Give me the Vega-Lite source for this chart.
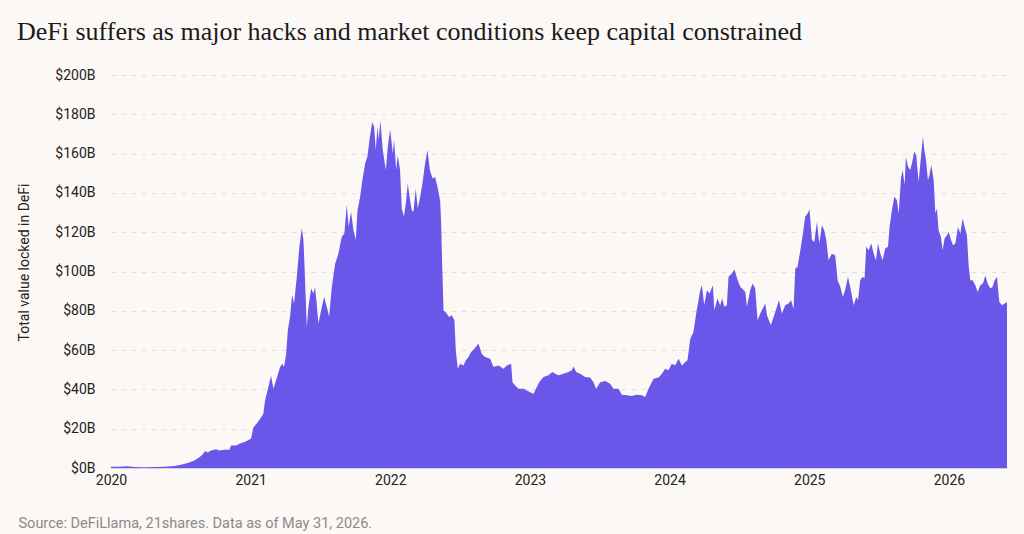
{
  "$schema": "https://vega.github.io/schema/vega-lite/v6.json",
  "width": 896,
  "height": 393,
  "autosize": {"type": "none"},
  "padding": {"left": 111, "top": 75, "right": 17, "bottom": 66},
  "background": "#FCF8F5",
  "config": {"view": {"stroke": null}},
  "title": {
    "text": "DeFi suffers as major hacks and market conditions keep capital constrained",
    "anchor": "start",
    "frame": "bounds",
    "font": "Liberation Serif",
    "fontSize": 26,
    "fontWeight": "normal",
    "color": "#1a1a1a",
    "offset": 23
  },
  "data": {
    "values": [
      {"year": 2020.000, "tvl": 0.7}, {"year": 2020.048, "tvl": 0.6}, {"year": 2020.119, "tvl": 0.9}, {"year": 2020.167, "tvl": 0.5},
      {"year": 2020.239, "tvl": 0.4}, {"year": 2020.310, "tvl": 0.5}, {"year": 2020.382, "tvl": 0.6}, {"year": 2020.454, "tvl": 1.0},
      {"year": 2020.501, "tvl": 1.6}, {"year": 2020.549, "tvl": 2.6}, {"year": 2020.597, "tvl": 3.8}, {"year": 2020.633, "tvl": 5.5},
      {"year": 2020.657, "tvl": 6.9}, {"year": 2020.673, "tvl": 8.6}, {"year": 2020.692, "tvl": 7.9}, {"year": 2020.716, "tvl": 8.9},
      {"year": 2020.752, "tvl": 9.6}, {"year": 2020.776, "tvl": 8.9}, {"year": 2020.812, "tvl": 9.3}, {"year": 2020.848, "tvl": 9.3},
      {"year": 2020.860, "tvl": 11.5}, {"year": 2020.895, "tvl": 11.5}, {"year": 2020.919, "tvl": 12.3}, {"year": 2020.955, "tvl": 13.2},
      {"year": 2020.979, "tvl": 14.0}, {"year": 2021.003, "tvl": 15.0}, {"year": 2021.020, "tvl": 20.8}, {"year": 2021.043, "tvl": 22.5},
      {"year": 2021.067, "tvl": 25.0}, {"year": 2021.091, "tvl": 27.6}, {"year": 2021.103, "tvl": 34.4}, {"year": 2021.127, "tvl": 41.2},
      {"year": 2021.146, "tvl": 47.0}, {"year": 2021.163, "tvl": 40.3}, {"year": 2021.182, "tvl": 44.6}, {"year": 2021.211, "tvl": 51.4},
      {"year": 2021.227, "tvl": 53.0}, {"year": 2021.239, "tvl": 51.4}, {"year": 2021.254, "tvl": 58.0}, {"year": 2021.266, "tvl": 70.0},
      {"year": 2021.282, "tvl": 77.0}, {"year": 2021.297, "tvl": 88.0}, {"year": 2021.311, "tvl": 83.7}, {"year": 2021.330, "tvl": 97.0},
      {"year": 2021.349, "tvl": 112.6}, {"year": 2021.366, "tvl": 122.0}, {"year": 2021.378, "tvl": 116.0}, {"year": 2021.385, "tvl": 104.0},
      {"year": 2021.402, "tvl": 71.8}, {"year": 2021.414, "tvl": 82.0}, {"year": 2021.433, "tvl": 91.3}, {"year": 2021.449, "tvl": 88.8},
      {"year": 2021.461, "tvl": 92.0}, {"year": 2021.473, "tvl": 83.7}, {"year": 2021.485, "tvl": 73.5}, {"year": 2021.504, "tvl": 80.0},
      {"year": 2021.526, "tvl": 87.0}, {"year": 2021.545, "tvl": 82.0}, {"year": 2021.562, "tvl": 77.0}, {"year": 2021.581, "tvl": 92.0},
      {"year": 2021.605, "tvl": 104.0}, {"year": 2021.628, "tvl": 109.0}, {"year": 2021.652, "tvl": 117.6}, {"year": 2021.671, "tvl": 119.4},
      {"year": 2021.688, "tvl": 133.8}, {"year": 2021.702, "tvl": 122.7}, {"year": 2021.719, "tvl": 130.4}, {"year": 2021.736, "tvl": 121.0},
      {"year": 2021.753, "tvl": 116.0}, {"year": 2021.765, "tvl": 131.0}, {"year": 2021.784, "tvl": 138.0}, {"year": 2021.800, "tvl": 146.5},
      {"year": 2021.820, "tvl": 155.0}, {"year": 2021.836, "tvl": 158.4}, {"year": 2021.851, "tvl": 167.0}, {"year": 2021.870, "tvl": 176.0},
      {"year": 2021.884, "tvl": 173.7}, {"year": 2021.896, "tvl": 161.8}, {"year": 2021.908, "tvl": 173.7}, {"year": 2021.917, "tvl": 167.0},
      {"year": 2021.929, "tvl": 176.8}, {"year": 2021.946, "tvl": 161.8}, {"year": 2021.968, "tvl": 151.6}, {"year": 2021.982, "tvl": 163.5},
      {"year": 2021.999, "tvl": 172.3}, {"year": 2022.018, "tvl": 160.0}, {"year": 2022.027, "tvl": 167.0}, {"year": 2022.042, "tvl": 151.6},
      {"year": 2022.053, "tvl": 159.0}, {"year": 2022.070, "tvl": 151.6}, {"year": 2022.082, "tvl": 132.0}, {"year": 2022.097, "tvl": 128.0},
      {"year": 2022.111, "tvl": 134.6}, {"year": 2022.125, "tvl": 144.8}, {"year": 2022.142, "tvl": 136.0}, {"year": 2022.154, "tvl": 131.0},
      {"year": 2022.166, "tvl": 130.4}, {"year": 2022.182, "tvl": 142.0}, {"year": 2022.197, "tvl": 132.0}, {"year": 2022.214, "tvl": 138.0},
      {"year": 2022.230, "tvl": 144.8}, {"year": 2022.249, "tvl": 155.0}, {"year": 2022.266, "tvl": 161.8}, {"year": 2022.283, "tvl": 151.6},
      {"year": 2022.302, "tvl": 147.4}, {"year": 2022.321, "tvl": 148.0}, {"year": 2022.338, "tvl": 143.0}, {"year": 2022.357, "tvl": 136.0},
      {"year": 2022.364, "tvl": 125.0}, {"year": 2022.371, "tvl": 105.0}, {"year": 2022.381, "tvl": 80.3}, {"year": 2022.404, "tvl": 78.6},
      {"year": 2022.421, "tvl": 76.9}, {"year": 2022.440, "tvl": 77.7}, {"year": 2022.459, "tvl": 75.2}, {"year": 2022.469, "tvl": 59.9},
      {"year": 2022.483, "tvl": 50.5}, {"year": 2022.500, "tvl": 53.0}, {"year": 2022.524, "tvl": 52.2}, {"year": 2022.541, "tvl": 54.8},
      {"year": 2022.560, "tvl": 56.5}, {"year": 2022.579, "tvl": 59.0}, {"year": 2022.603, "tvl": 60.7}, {"year": 2022.631, "tvl": 63.3},
      {"year": 2022.655, "tvl": 58.0}, {"year": 2022.679, "tvl": 56.5}, {"year": 2022.715, "tvl": 55.6}, {"year": 2022.739, "tvl": 51.4},
      {"year": 2022.775, "tvl": 52.2}, {"year": 2022.810, "tvl": 50.5}, {"year": 2022.834, "tvl": 52.2}, {"year": 2022.865, "tvl": 53.0},
      {"year": 2022.875, "tvl": 43.7}, {"year": 2022.894, "tvl": 42.0}, {"year": 2022.918, "tvl": 40.3}, {"year": 2022.954, "tvl": 40.3},
      {"year": 2022.978, "tvl": 39.5}, {"year": 2023.001, "tvl": 38.6}, {"year": 2023.025, "tvl": 37.8}, {"year": 2023.037, "tvl": 39.5},
      {"year": 2023.066, "tvl": 43.7}, {"year": 2023.097, "tvl": 46.3}, {"year": 2023.133, "tvl": 47.2}, {"year": 2023.161, "tvl": 48.8},
      {"year": 2023.181, "tvl": 48.0}, {"year": 2023.204, "tvl": 47.2}, {"year": 2023.240, "tvl": 48.0}, {"year": 2023.276, "tvl": 48.8},
      {"year": 2023.300, "tvl": 49.7}, {"year": 2023.312, "tvl": 51.7}, {"year": 2023.331, "tvl": 48.8}, {"year": 2023.360, "tvl": 48.0},
      {"year": 2023.395, "tvl": 46.3}, {"year": 2023.431, "tvl": 46.0}, {"year": 2023.455, "tvl": 43.7}, {"year": 2023.474, "tvl": 40.3},
      {"year": 2023.503, "tvl": 43.7}, {"year": 2023.539, "tvl": 44.3}, {"year": 2023.574, "tvl": 42.9}, {"year": 2023.598, "tvl": 40.3},
      {"year": 2023.634, "tvl": 40.3}, {"year": 2023.658, "tvl": 37.3}, {"year": 2023.694, "tvl": 37.0}, {"year": 2023.730, "tvl": 36.6},
      {"year": 2023.766, "tvl": 37.3}, {"year": 2023.801, "tvl": 37.0}, {"year": 2023.825, "tvl": 36.1}, {"year": 2023.849, "tvl": 40.3},
      {"year": 2023.885, "tvl": 45.4}, {"year": 2023.921, "tvl": 46.0}, {"year": 2023.945, "tvl": 48.0}, {"year": 2023.968, "tvl": 50.5},
      {"year": 2023.992, "tvl": 49.7}, {"year": 2024.016, "tvl": 53.1}, {"year": 2024.040, "tvl": 52.2}, {"year": 2024.064, "tvl": 55.6},
      {"year": 2024.088, "tvl": 52.2}, {"year": 2024.112, "tvl": 54.0}, {"year": 2024.128, "tvl": 54.8}, {"year": 2024.148, "tvl": 65.8},
      {"year": 2024.171, "tvl": 69.2}, {"year": 2024.190, "tvl": 78.6}, {"year": 2024.207, "tvl": 85.4}, {"year": 2024.219, "tvl": 90.5},
      {"year": 2024.231, "tvl": 93.0}, {"year": 2024.248, "tvl": 82.8}, {"year": 2024.267, "tvl": 90.5}, {"year": 2024.286, "tvl": 88.8},
      {"year": 2024.310, "tvl": 93.0}, {"year": 2024.320, "tvl": 80.3}, {"year": 2024.343, "tvl": 86.2}, {"year": 2024.362, "tvl": 82.8},
      {"year": 2024.377, "tvl": 86.2}, {"year": 2024.391, "tvl": 82.0}, {"year": 2024.410, "tvl": 82.8}, {"year": 2024.422, "tvl": 97.3},
      {"year": 2024.446, "tvl": 99.0}, {"year": 2024.465, "tvl": 101.0}, {"year": 2024.487, "tvl": 95.6}, {"year": 2024.506, "tvl": 92.2},
      {"year": 2024.530, "tvl": 90.5}, {"year": 2024.542, "tvl": 89.6}, {"year": 2024.554, "tvl": 82.0}, {"year": 2024.577, "tvl": 90.5},
      {"year": 2024.594, "tvl": 93.9}, {"year": 2024.613, "tvl": 91.3}, {"year": 2024.630, "tvl": 75.2}, {"year": 2024.649, "tvl": 78.6},
      {"year": 2024.685, "tvl": 83.7}, {"year": 2024.697, "tvl": 77.7}, {"year": 2024.725, "tvl": 72.6}, {"year": 2024.745, "tvl": 76.9},
      {"year": 2024.764, "tvl": 81.0}, {"year": 2024.783, "tvl": 85.4}, {"year": 2024.804, "tvl": 78.6}, {"year": 2024.828, "tvl": 82.8},
      {"year": 2024.852, "tvl": 83.7}, {"year": 2024.869, "tvl": 85.4}, {"year": 2024.888, "tvl": 81.0}, {"year": 2024.900, "tvl": 101.5},
      {"year": 2024.916, "tvl": 102.3}, {"year": 2024.936, "tvl": 110.8}, {"year": 2024.955, "tvl": 119.4}, {"year": 2024.971, "tvl": 127.8},
      {"year": 2024.988, "tvl": 129.5}, {"year": 2025.002, "tvl": 131.6}, {"year": 2025.019, "tvl": 116.0}, {"year": 2025.036, "tvl": 115.0},
      {"year": 2025.055, "tvl": 125.2}, {"year": 2025.072, "tvl": 114.2}, {"year": 2025.091, "tvl": 123.6}, {"year": 2025.107, "tvl": 121.0},
      {"year": 2025.122, "tvl": 116.0}, {"year": 2025.138, "tvl": 105.7}, {"year": 2025.162, "tvl": 109.0}, {"year": 2025.186, "tvl": 108.2},
      {"year": 2025.203, "tvl": 95.6}, {"year": 2025.222, "tvl": 92.2}, {"year": 2025.241, "tvl": 87.0}, {"year": 2025.260, "tvl": 91.3},
      {"year": 2025.277, "tvl": 97.3}, {"year": 2025.298, "tvl": 90.5}, {"year": 2025.318, "tvl": 82.8}, {"year": 2025.337, "tvl": 87.0},
      {"year": 2025.349, "tvl": 85.4}, {"year": 2025.365, "tvl": 95.6}, {"year": 2025.382, "tvl": 97.3}, {"year": 2025.396, "tvl": 96.4},
      {"year": 2025.408, "tvl": 112.6}, {"year": 2025.425, "tvl": 110.8}, {"year": 2025.444, "tvl": 114.2}, {"year": 2025.461, "tvl": 109.1},
      {"year": 2025.478, "tvl": 105.7}, {"year": 2025.492, "tvl": 114.2}, {"year": 2025.509, "tvl": 109.1}, {"year": 2025.525, "tvl": 105.7},
      {"year": 2025.544, "tvl": 111.7}, {"year": 2025.564, "tvl": 112.6}, {"year": 2025.575, "tvl": 122.7}, {"year": 2025.592, "tvl": 131.2},
      {"year": 2025.609, "tvl": 138.0}, {"year": 2025.628, "tvl": 136.3}, {"year": 2025.640, "tvl": 129.5}, {"year": 2025.657, "tvl": 147.4},
      {"year": 2025.669, "tvl": 151.6}, {"year": 2025.683, "tvl": 144.0}, {"year": 2025.692, "tvl": 158.4}, {"year": 2025.707, "tvl": 153.3},
      {"year": 2025.723, "tvl": 151.6}, {"year": 2025.735, "tvl": 155.0}, {"year": 2025.752, "tvl": 161.0}, {"year": 2025.766, "tvl": 159.3},
      {"year": 2025.783, "tvl": 145.7}, {"year": 2025.800, "tvl": 158.4}, {"year": 2025.814, "tvl": 168.6}, {"year": 2025.824, "tvl": 161.8},
      {"year": 2025.836, "tvl": 156.7}, {"year": 2025.850, "tvl": 146.5}, {"year": 2025.860, "tvl": 149.0}, {"year": 2025.874, "tvl": 154.2},
      {"year": 2025.891, "tvl": 146.5}, {"year": 2025.903, "tvl": 129.5}, {"year": 2025.914, "tvl": 132.0}, {"year": 2025.926, "tvl": 121.0},
      {"year": 2025.943, "tvl": 117.6}, {"year": 2025.955, "tvl": 110.8}, {"year": 2025.969, "tvl": 116.8}, {"year": 2025.986, "tvl": 118.5},
      {"year": 2025.998, "tvl": 120.2}, {"year": 2026.015, "tvl": 116.0}, {"year": 2026.029, "tvl": 113.4}, {"year": 2026.046, "tvl": 114.2},
      {"year": 2026.065, "tvl": 122.7}, {"year": 2026.082, "tvl": 119.4}, {"year": 2026.098, "tvl": 127.0}, {"year": 2026.113, "tvl": 122.7},
      {"year": 2026.129, "tvl": 118.5}, {"year": 2026.141, "tvl": 103.2}, {"year": 2026.153, "tvl": 95.6}, {"year": 2026.170, "tvl": 95.6},
      {"year": 2026.189, "tvl": 93.0}, {"year": 2026.206, "tvl": 89.6}, {"year": 2026.225, "tvl": 93.0}, {"year": 2026.244, "tvl": 93.9},
      {"year": 2026.261, "tvl": 98.0}, {"year": 2026.277, "tvl": 93.9}, {"year": 2026.297, "tvl": 91.3}, {"year": 2026.313, "tvl": 92.2},
      {"year": 2026.328, "tvl": 95.6}, {"year": 2026.344, "tvl": 97.3}, {"year": 2026.361, "tvl": 84.5}, {"year": 2026.380, "tvl": 82.8},
      {"year": 2026.399, "tvl": 83.7}, {"year": 2026.416, "tvl": 84.5}
    ]
  },
  "mark": {"type": "area", "color": "#6A57E9", "interpolate": "linear"},
  "encoding": {
    "x": {
      "field": "year",
      "type": "quantitative",
      "scale": {"domain": [2020, 2026.416], "nice": false, "zero": false},
      "axis": {
        "values": [2020, 2021, 2022, 2023, 2024, 2025, 2026],
        "format": "d",
        "grid": false,
        "ticks": false,
        "domain": true,
        "domainColor": "#D3CDEF",
        "domainWidth": 1,
        "labelFont": "Roboto",
        "labelFontSize": 14,
        "labelColor": "#222222",
        "labelPadding": 5,
        "labelFlush": false,
        "title": "Source: DeFiLlama, 21shares. Data as of May 31, 2026.",
        "titleFont": "Roboto",
        "titleFontSize": 14.5,
        "titleFontWeight": "normal",
        "titleColor": "#8A8A8A",
        "titleAnchor": "start",
        "titleAlign": "left",
        "titleBaseline": "alphabetic",
        "titleX": -93,
        "titleY": 59
      }
    },
    "y": {
      "field": "tvl",
      "type": "quantitative",
      "scale": {"domain": [0, 200], "nice": false},
      "axis": {
        "values": [0, 20, 40, 60, 80, 100, 120, 140, 160, 180, 200],
        "labelExpr": "'$' + datum.value + 'B'",
        "grid": true,
        "gridDash": [5, 5],
        "gridColor": "#E6E0DC",
        "ticks": false,
        "domain": false,
        "labelFont": "Roboto",
        "labelFontSize": 14,
        "labelColor": "#222222",
        "labelPadding": 16,
        "title": "Total value locked in DeFi",
        "titleFont": "Roboto",
        "titleFontSize": 14,
        "titleFontWeight": "normal",
        "titleColor": "#222222",
        "titleAngle": -90,
        "titleAlign": "center",
        "titleBaseline": "middle",
        "titleX": -87,
        "titleY": 187
      }
    }
  }
}
